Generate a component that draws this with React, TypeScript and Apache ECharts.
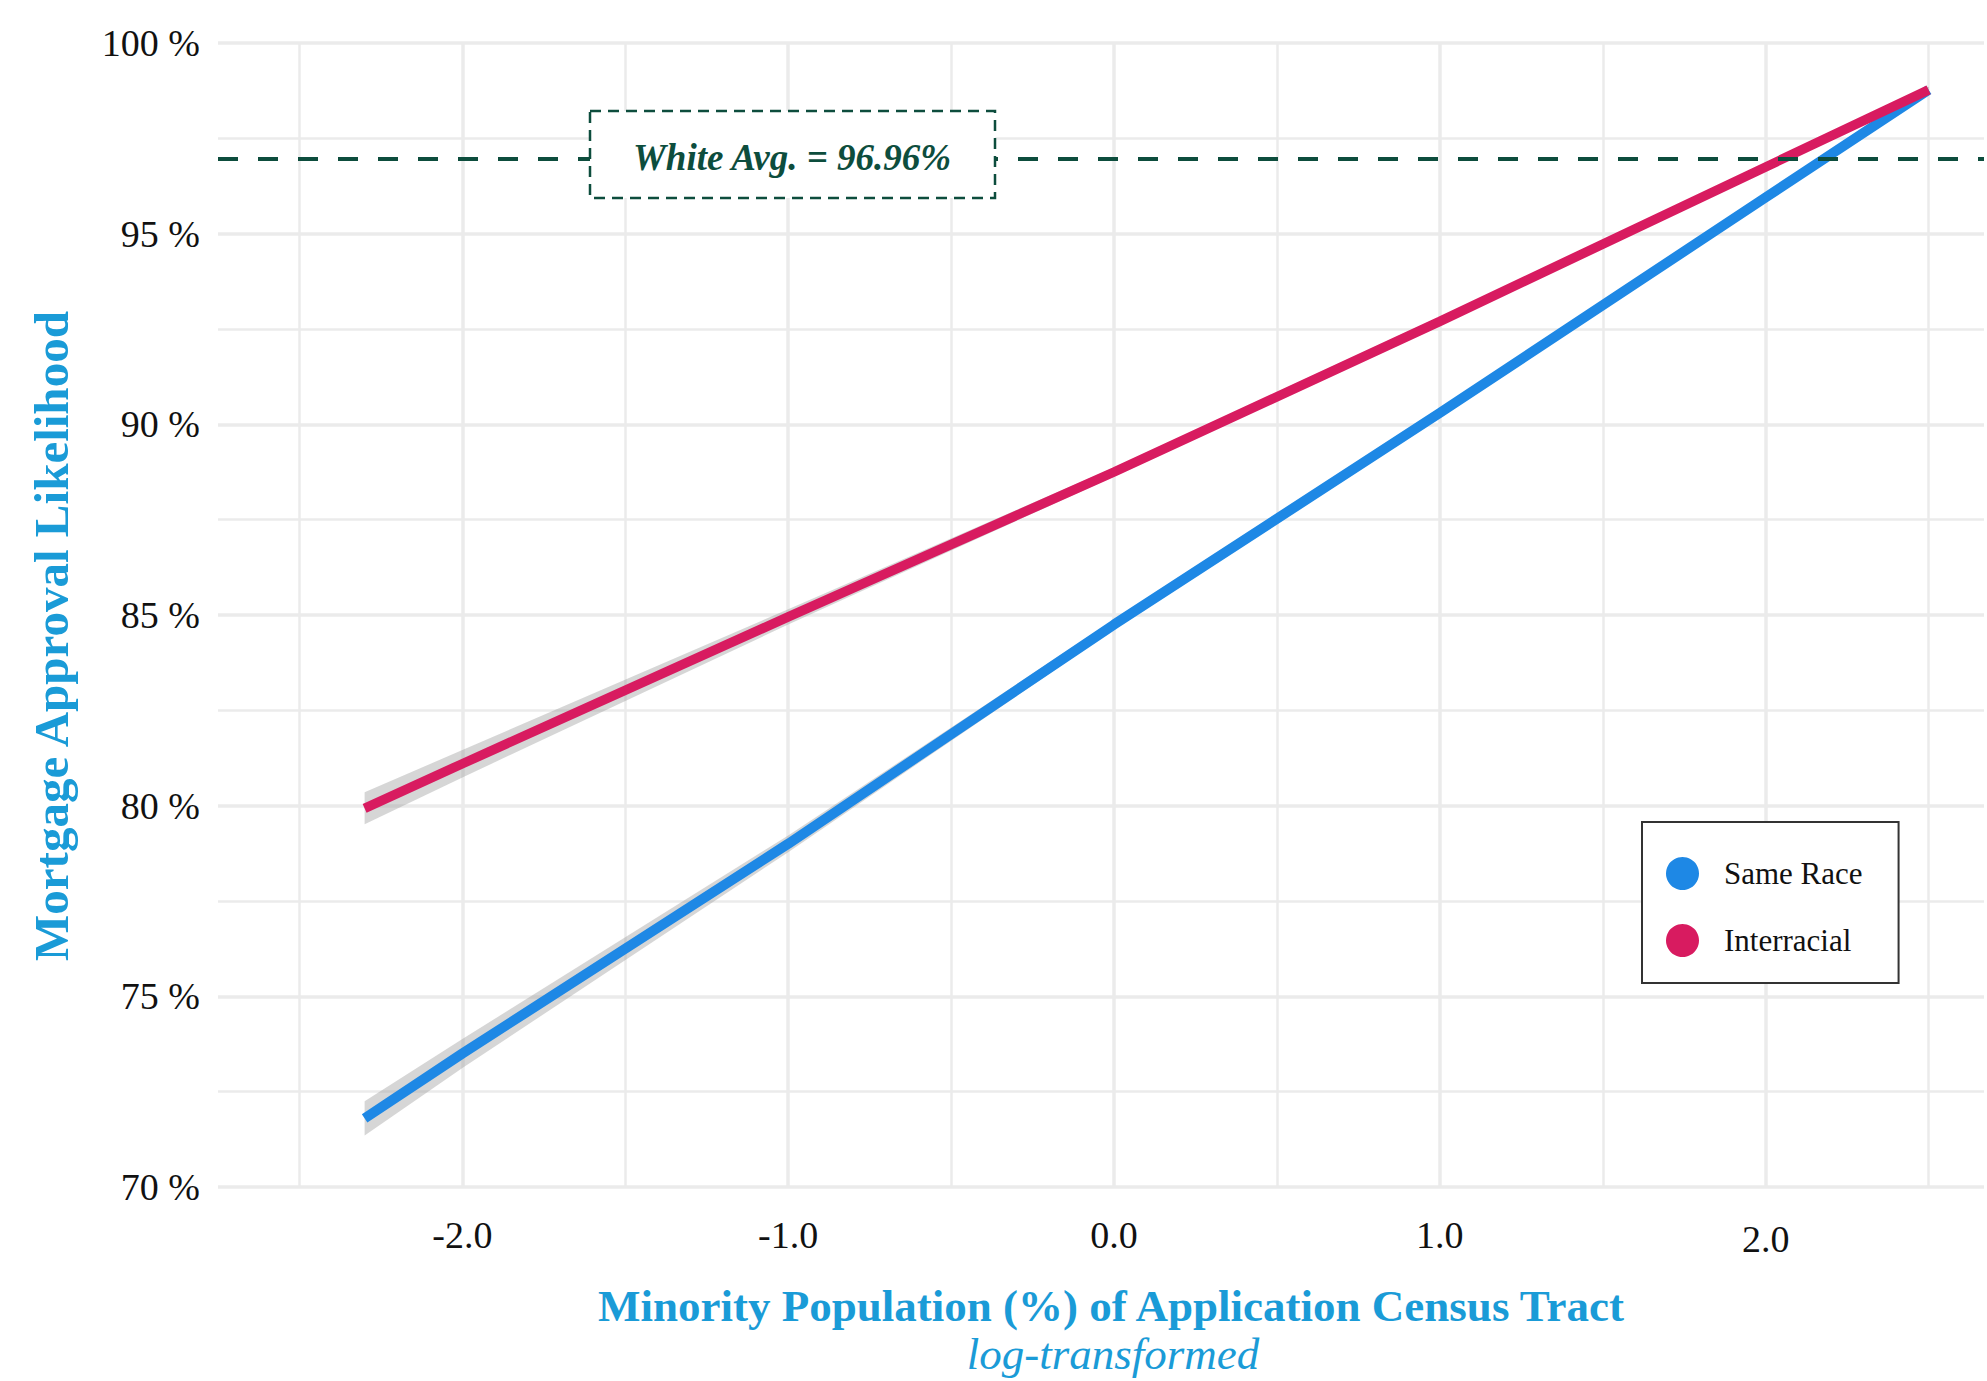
import React, { useEffect, useRef } from 'react';
import * as echarts from 'echarts';

// ---- data ----
const xValues = [-2.3, -2, -1, 0, 1, 2, 2.5];
const sameRace = [71.8, 73.5, 79.0, 84.75, 90.3, 95.95, 98.77];
const interracial = [79.93, 81.1, 84.95, 88.75, 92.7, 96.75, 98.77];
const sameRaceCI = [0.45, 0.38, 0.22, 0.13, 0.12, 0.1, 0.08];
const interracialCI = [0.42, 0.36, 0.2, 0.12, 0.12, 0.1, 0.08];
const whiteAvg = 96.96;
const seriesNames = ['Same Race', 'Interracial'];
const xMin = -2.75;
const xMax = 2.67;
const yMin = 70;
const yMax = 100;

const FONT = 'Liberation Serif';
const TITLE_COLOR = '#1a9bd7';
const GREEN = '#0d4d3d';
const BLUE = '#1e88e5';
const RED = '#d81b60';
const GRID = '#ebebeb';

function bandSeries(values: number[], ci: number[]) {
  return {
    type: 'custom',
    xAxisIndex: 0,
    yAxisIndex: 0,
    z: 2,
    silent: true,
    clip: true,
    data: xValues.map((x, i) => [x, values[i] - ci[i], values[i] + ci[i]]),
    encode: { x: 0, y: [1, 2] },
    renderItem: (params: any, api: any) => {
      if (params.dataIndex !== 0) return null;
      const lower = xValues.map((x, i) => api.coord([x, values[i] - ci[i]]));
      const upper = xValues.map((x, i) => api.coord([x, values[i] + ci[i]])).reverse();
      return {
        type: 'polygon',
        shape: { points: lower.concat(upper) },
        style: { fill: 'rgba(153,153,153,0.4)' },
      };
    },
  };
}

export default function App() {
  const ref = useRef<HTMLDivElement>(null);
  useEffect(() => {
    if (!ref.current) return;
    const chart = echarts.init(ref.current, undefined, { renderer: 'svg' });
    const isInt = (v: number) => Math.abs(v - Math.round(v)) < 1e-6;
    chart.setOption({
      animation: false,
      backgroundColor: '#ffffff',
      grid: { left: 218, top: 43, right: 0, bottom: 194, containLabel: false },
      xAxis: [
        {
          type: 'value',
          min: xMin,
          max: xMax,
          interval: 0.25,
          position: 'bottom',
          axisLine: { show: false },
          axisTick: { show: false },
          splitLine: {
            show: true,
            lineStyle: { color: ['rgba(0,0,0,0)', 'rgba(0,0,0,0)', 'rgba(0,0,0,0)', GRID], width: 3.5 },
          },
          axisLabel: {
            margin: 29,
            fontFamily: FONT,
            fontSize: 38,
            color: '#111',
            formatter: (v: number) => {
              if (!isInt(v) || Math.abs(v) > 2.01) return '';
              const s = Math.round(v).toFixed(1);
              return Math.round(v) === 2 ? '{low|' + s + '}' : s;
            },
            rich: { low: { fontFamily: FONT, fontSize: 38, color: '#111', padding: [4, 0, 0, 0] } },
          },
        },
        {
          type: 'value',
          min: xMin,
          max: xMax,
          interval: 0.25,
          position: 'bottom',
          axisLine: { show: false },
          axisTick: { show: false },
          axisLabel: { show: false },
          splitLine: {
            show: true,
            lineStyle: { color: ['rgba(0,0,0,0)', GRID, 'rgba(0,0,0,0)', 'rgba(0,0,0,0)'], width: 2.5 },
          },
        },
      ],
      yAxis: {
        type: 'value',
        min: yMin,
        max: yMax,
        interval: 5,
        axisLine: { show: false },
        axisTick: { show: false },
        minorTick: { show: false, splitNumber: 2 },
        minorSplitLine: { show: true, lineStyle: { color: GRID, width: 2.5 } },
        splitLine: { show: true, lineStyle: { color: GRID, width: 3.5 } },
        axisLabel: {
          margin: 18,
          fontFamily: FONT,
          fontSize: 38,
          color: '#111',
          formatter: (v: number) => v + ' %',
        },
      },
      legend: {
        data: seriesNames.map((n) => ({ name: n, icon: 'circle' })),
        orient: 'vertical',
        left: 1642,
        top: 822,
        itemWidth: 33,
        itemHeight: 33,
        itemGap: 34,
        padding: [35, 36, 26, 24],
        borderColor: '#333',
        borderWidth: 2,
        borderRadius: 0,
        backgroundColor: '#ffffff',
        selectedMode: false,
        textStyle: { fontFamily: FONT, fontSize: 31, color: '#111', padding: [0, 0, 0, 20] },
      },
      series: [
        bandSeries(sameRace, sameRaceCI),
        bandSeries(interracial, interracialCI),
        {
          name: seriesNames[0],
          type: 'line',
          z: 3,
          showSymbol: false,
          symbol: 'none',
          color: BLUE,
          itemStyle: { color: BLUE },
          lineStyle: { color: BLUE, width: 10 },
          data: xValues.map((x, i) => [x, sameRace[i]]),
        },
        {
          name: seriesNames[1],
          type: 'line',
          z: 3,
          showSymbol: false,
          symbol: 'none',
          color: RED,
          itemStyle: { color: RED },
          lineStyle: { color: RED, width: 9.5 },
          data: xValues.map((x, i) => [x, interracial[i]]),
        },
        {
          name: 'whiteAvg',
          type: 'line',
          z: 4,
          data: [],
          markLine: {
            silent: true,
            symbol: ['none', 'none'],
            label: { show: false },
            lineStyle: { color: GREEN, width: 4, type: [20, 20] },
            data: [{ yAxis: whiteAvg }],
          },
        },
      ],
      graphic: [
        {
          type: 'rect',
          z: 100,
          shape: { x: 590, y: 111, width: 405, height: 87 },
          style: { fill: '#ffffff', stroke: GREEN, lineWidth: 2.5, lineDash: [11, 7] },
        },
        {
          type: 'text',
          z: 101,
          x: 792,
          y: 157,
          style: {
            text: 'White Avg. = ' + whiteAvg.toFixed(2) + '%',
            fontFamily: FONT,
            fontSize: 37,
            fontWeight: 'bold',
            fontStyle: 'italic',
            fill: GREEN,
            align: 'center',
            verticalAlign: 'middle',
          },
        },
        {
          type: 'text',
          x: 1111,
          y: 1306,
          style: {
            text: 'Minority Population (%) of Application Census Tract',
            fontFamily: FONT,
            fontSize: 45,
            fontWeight: 'bold',
            fill: TITLE_COLOR,
            align: 'center',
            verticalAlign: 'middle',
          },
        },
        {
          type: 'text',
          x: 1113,
          y: 1354,
          style: {
            text: 'log-transformed',
            fontFamily: FONT,
            fontSize: 45,
            fontStyle: 'italic',
            fill: TITLE_COLOR,
            align: 'center',
            verticalAlign: 'middle',
          },
        },
        {
          type: 'text',
          x: 51,
          y: 636,
          rotation: Math.PI / 2,
          style: {
            text: 'Mortgage Approval Likelihood',
            fontFamily: FONT,
            fontSize: 49,
            fontWeight: 'bold',
            fill: TITLE_COLOR,
            align: 'center',
            verticalAlign: 'middle',
          },
        },
      ],
    });
    return () => chart.dispose();
  }, []);
  return (
    <div
      ref={ref}
      style={{ position: 'absolute', left: 0, top: 0, width: 1987, height: 1381, background: '#fff' }}
    />
  );
}
